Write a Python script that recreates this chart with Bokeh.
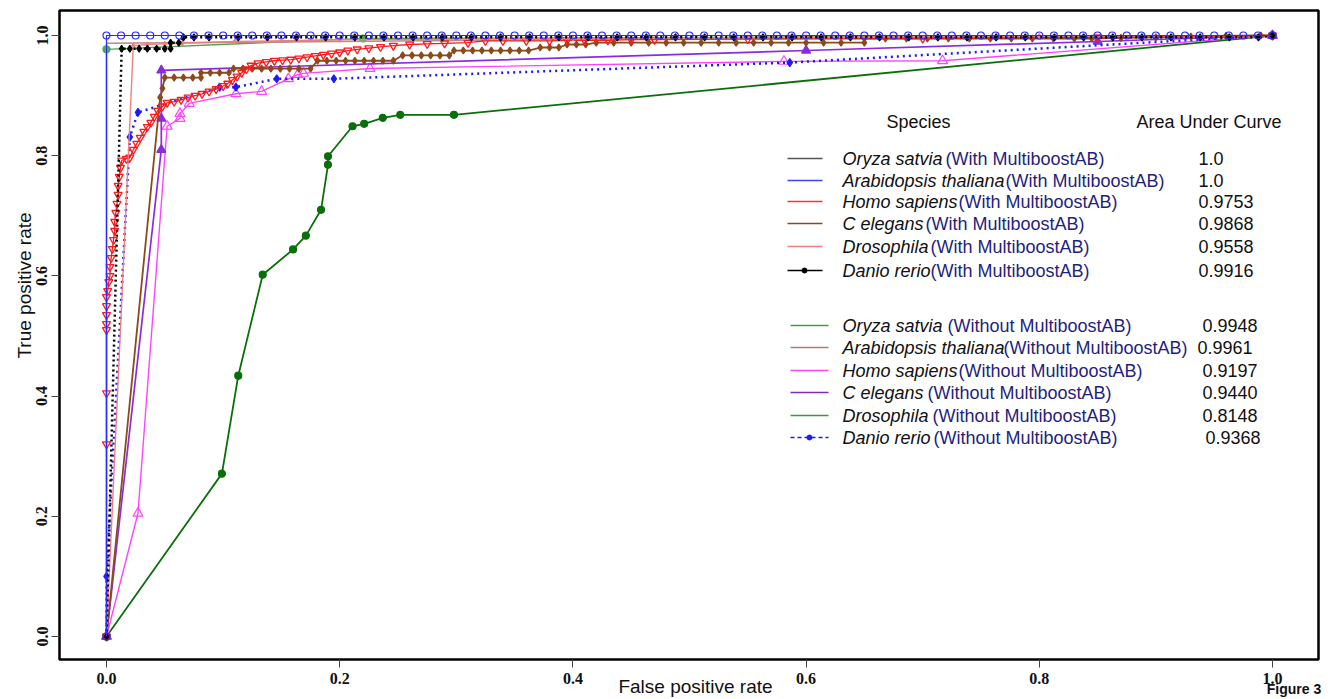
import math
from bokeh.plotting import figure
from bokeh.models import Range1d, FixedTicker, LinearAxis, NumeralTickFormatter, CustomJSTickFormatter
from bokeh.core.properties import value
from bokeh.embed import file_html
from bokeh.resources import INLINE

# ---------------- data ----------------
# With MultiboostAB
oryza_with_x = [0.0, 0.0, 1.0]
oryza_with_y = [0.0, 1.0, 1.0]

arab_with_x = [0.0,
               0.0000, 0.0125, 0.0250, 0.0375, 0.0500, 0.0625, 0.0750, 0.0875, 0.1000,
               0.1125, 0.1250, 0.1375, 0.1500, 0.1625, 0.1750, 0.1875, 0.2000, 0.2125,
               0.2250, 0.2375, 0.2500, 0.2625, 0.2750, 0.2875, 0.3000, 0.3125, 0.3250,
               0.3375, 0.3500, 0.3625, 0.3750, 0.3875, 0.4000, 0.4125, 0.4250, 0.4375,
               0.4500, 0.4625, 0.4750, 0.4875, 0.5000, 0.5125, 0.5250, 0.5375, 0.5500,
               0.5625, 0.5750, 0.5875, 0.6000, 0.6125, 0.6250, 0.6375, 0.6500, 0.6625,
               0.6750, 0.6875, 0.7000, 0.7125, 0.7250, 0.7375, 0.7500, 0.7625, 0.7750,
               0.7875, 0.8000, 0.8125, 0.8250, 0.8375, 0.8500, 0.8625, 0.8750, 0.8875,
               0.9000, 0.9125, 0.9250, 0.9375, 0.9500, 0.9625, 0.9750, 0.9875, 1.0000]
arab_with_y = [0.0,
               1.0, 1.0, 1.0, 1.0, 1.0, 1.0, 1.0, 1.0, 1.0,
               1.0, 1.0, 1.0, 1.0, 1.0, 1.0, 1.0, 1.0, 1.0,
               1.0, 1.0, 1.0, 1.0, 1.0, 1.0, 1.0, 1.0, 1.0,
               1.0, 1.0, 1.0, 1.0, 1.0, 1.0, 1.0, 1.0, 1.0,
               1.0, 1.0, 1.0, 1.0, 1.0, 1.0, 1.0, 1.0, 1.0,
               1.0, 1.0, 1.0, 1.0, 1.0, 1.0, 1.0, 1.0, 1.0,
               1.0, 1.0, 1.0, 1.0, 1.0, 1.0, 1.0, 1.0, 1.0,
               1.0, 1.0, 1.0, 1.0, 1.0, 1.0, 1.0, 1.0, 1.0,
               1.0, 1.0, 1.0, 1.0, 1.0, 1.0, 1.0, 1.0, 1.0]

homo_with_x = [0.000, 0.000, 0.000, 0.000, 0.000, 0.000, 0.000, 0.000, 0.001, 0.002,
               0.003, 0.003, 0.004, 0.005, 0.006, 0.007, 0.007, 0.008, 0.009, 0.010,
               0.010, 0.011, 0.012, 0.013, 0.017, 0.020, 0.023, 0.026, 0.029, 0.032,
               0.035, 0.038, 0.041, 0.044, 0.048, 0.052, 0.058, 0.064, 0.070, 0.076,
               0.082, 0.088, 0.094, 0.100, 0.104, 0.108, 0.112, 0.116, 0.120, 0.124,
               0.130, 0.137, 0.144, 0.151, 0.158, 0.165, 0.172, 0.179, 0.186, 0.193,
               0.200, 0.207, 0.215, 0.225, 0.235, 0.246, 0.260, 0.275, 0.290, 0.310,
               0.325, 0.340, 0.360, 0.380, 0.395, 0.410, 0.430, 0.450, 0.470, 0.550,
               0.700, 0.850, 1.000]
homo_with_y = [0.000, 0.320, 0.405, 0.510, 0.520, 0.535, 0.550, 0.565, 0.575, 0.590,
               0.600, 0.615, 0.630, 0.645, 0.660, 0.675, 0.690, 0.705, 0.720, 0.735,
               0.750, 0.765, 0.780, 0.792, 0.795, 0.797, 0.810, 0.820, 0.830, 0.840,
               0.848, 0.855, 0.865, 0.875, 0.882, 0.888, 0.890, 0.893, 0.897, 0.900,
               0.903, 0.907, 0.911, 0.916, 0.920, 0.926, 0.932, 0.938, 0.944, 0.950,
               0.954, 0.956, 0.958, 0.959, 0.960, 0.962, 0.964, 0.966, 0.968, 0.970,
               0.972, 0.975, 0.977, 0.979, 0.981, 0.983, 0.985, 0.986, 0.987, 0.988,
               0.991, 0.991, 0.991, 0.991, 0.992, 0.992, 0.992, 0.993, 0.993, 0.994,
               0.995, 0.997, 1.000]

cele_with_x = [0.000, 0.046, 0.048, 0.050, 0.058, 0.066, 0.074, 0.081,
               0.081, 0.089, 0.097, 0.105,
               0.109, 0.117, 0.125, 0.133, 0.141, 0.149, 0.157, 0.165, 0.175,
               0.181, 0.189, 0.197, 0.205, 0.213, 0.221, 0.229, 0.237, 0.246,
               0.254, 0.262, 0.270, 0.278, 0.286, 0.294,
               0.298, 0.306, 0.314, 0.322, 0.330, 0.338, 0.346, 0.354, 0.362,
               0.372, 0.380, 0.388,
               0.395, 0.403, 0.411,
               0.420, 0.435, 0.450, 0.465, 0.480, 0.495, 0.510, 0.525, 0.540, 0.555,
               0.570, 0.585, 0.600, 0.615, 0.630, 0.650,
               0.650, 0.668, 0.686, 0.704, 0.722, 0.740, 0.758, 0.776, 0.794, 0.812,
               0.830, 0.845,
               0.870, 0.900, 0.930, 0.960, 0.990, 1.000]
cele_with_y = [0.000, 0.897, 0.912, 0.930, 0.930, 0.930, 0.930, 0.930,
               0.938, 0.938, 0.938, 0.938,
               0.945, 0.945, 0.945, 0.945, 0.945, 0.945, 0.945, 0.945, 0.945,
               0.958, 0.958, 0.958, 0.958, 0.958, 0.958, 0.958, 0.958, 0.958,
               0.967, 0.967, 0.967, 0.967, 0.967, 0.967,
               0.975, 0.975, 0.975, 0.975, 0.975, 0.975, 0.975, 0.975, 0.975,
               0.980, 0.980, 0.980,
               0.985, 0.985, 0.985,
               0.988, 0.988, 0.988, 0.988, 0.988, 0.988, 0.988, 0.988, 0.988, 0.988,
               0.988, 0.988, 0.988, 0.988, 0.988, 0.988,
               0.995, 0.995, 0.995, 0.995, 0.995, 0.995, 0.995, 0.995, 0.995, 0.995,
               0.995, 0.995,
               0.996, 0.997, 0.998, 0.999, 1.000, 1.000]

dros_with_x = [0.000, 0.023, 0.035, 0.050, 0.065, 0.110, 0.200, 0.400, 0.600, 0.800, 1.000]
dros_with_y = [0.000, 0.983, 0.985, 0.986, 0.987, 0.990, 0.993, 0.995, 0.997, 0.999, 1.000]

danio_with_x = [0.000, 0.013, 0.020, 0.028, 0.035, 0.043, 0.050, 0.055,
                0.055, 0.062, 0.066, 0.075,
                0.088, 0.113, 0.138, 0.163, 0.188, 0.213, 0.238, 0.263, 0.288, 0.313,
                0.338, 0.363, 0.388, 0.413, 0.438, 0.463, 0.488, 0.513, 0.538, 0.563,
                0.588, 0.613, 0.638, 0.663, 0.688, 0.713, 0.738, 0.763, 0.788, 0.813,
                0.838, 0.863, 0.888, 0.913, 0.938, 0.963, 0.988, 1.000]
danio_with_y = [0.000, 0.978, 0.978, 0.978, 0.978, 0.978, 0.978, 0.978,
                0.988, 0.988, 0.997, 0.997,
                0.997, 0.997, 0.997, 0.997, 0.997, 0.997, 0.997, 0.997, 0.997, 0.997,
                0.997, 0.997, 0.997, 0.997, 0.997, 0.997, 0.997, 0.997, 0.997, 0.997,
                0.997, 0.997, 0.997, 0.997, 0.997, 0.997, 0.997, 0.997, 0.997, 0.997,
                0.997, 0.997, 0.997, 0.997, 0.997, 0.997, 0.997, 1.000]

# Without MultiboostAB
oryza_wo_x = [0.000, 0.000, 0.220, 1.000]
oryza_wo_y = [0.000, 0.977, 0.995, 1.000]

arab_wo_x = [0.000, 0.000, 0.200, 0.500, 1.000]
arab_wo_y = [0.000, 0.987, 0.990, 0.995, 1.000]

homo_wo_x = [0.000, 0.027, 0.052, 0.063, 0.063, 0.071, 0.111, 0.133, 0.156, 0.164,
             0.169, 0.226, 0.581, 0.717, 1.000]
homo_wo_y = [0.000, 0.205, 0.849, 0.862, 0.870, 0.887, 0.903, 0.907, 0.928, 0.935,
             0.937, 0.945, 0.957, 0.958, 1.000]

cele_wo_x = [0.000, 0.047, 0.047, 0.047, 0.600, 0.850, 1.000]
cele_wo_y = [0.000, 0.810, 0.862, 0.942, 0.975, 0.990, 1.000]

dros_wo_x = [0.000, 0.099, 0.113, 0.134, 0.160, 0.171, 0.184, 0.190, 0.190, 0.211,
             0.221, 0.237, 0.252, 0.298, 1.000]
dros_wo_y = [0.000, 0.271, 0.434, 0.602, 0.644, 0.667, 0.710, 0.785, 0.799, 0.849,
             0.853, 0.863, 0.868, 0.868, 1.000]

danio_wo_x = [0.000, 0.000, 0.020, 0.027, 0.097, 0.111, 0.146, 0.195, 0.586, 1.000]
danio_wo_y = [0.000, 0.100, 0.831, 0.872, 0.914, 0.914, 0.928, 0.928, 0.955, 1.000]

species = ["Oryza satvia", "Arabidopsis thaliana", "Homo sapiens", "C elegans",
           "Drosophila", "Danio rerio"]
auc_with = ["1.0", "1.0", "0.9753", "0.9868", "0.9558", "0.9916"]
auc_without = ["0.9948", "0.9961", "0.9197", "0.9440", "0.8148", "0.9368"]
x_ticks = [0.0, 0.2, 0.4, 0.6, 0.8, 1.0]
y_ticks = [0.0, 0.2, 0.4, 0.6, 0.8, 1.0]

# ---------------- layout helpers (pixel -> data) ----------------
def dx(px):
    return (px - 106) / 1166.0

def dy(py):
    return (636 - py) / 601.0

W, H = 1323, 699
p = figure(width=W, height=H, output_backend="svg", toolbar_location=None,
           x_range=Range1d(dx(59), dx(1318)), y_range=Range1d(dy(659), dy(10)),
           min_border_left=59, min_border_right=W - 1318, min_border_top=10,
           min_border_bottom=H - 659)
p.background_fill_color = "white"
p.border_fill_color = "white"
p.outline_line_color = "black"
p.outline_line_width = 2.5
p.xgrid.visible = False
p.ygrid.visible = False

SERIF = "Liberation Serif"
SANS = "Liberation Sans"

for ax, ticks in ((p.xaxis[0], x_ticks), (p.yaxis[0], y_ticks)):
    ax.ticker = FixedTicker(ticks=ticks)
    ax.formatter = NumeralTickFormatter(format="0.0")
    ax.axis_line_color = None
    ax.major_tick_out = 8
    ax.major_tick_in = 0
    ax.minor_tick_line_color = None
    ax.major_tick_line_color = "#444444"
    ax.major_label_text_font = SERIF
    ax.major_label_text_font_style = "bold"
    ax.major_label_text_font_size = "16px"
    ax.major_label_text_color = "#111111"
p.xaxis[0].major_label_standoff = 5
p.yaxis[0].major_label_standoff = 4
p.yaxis[0].major_label_orientation = "vertical"

# text-only axes (axis titles and figure tag), stacked in the side panels
def text_axis(side, tick, txt, size, standoff, style="normal", orient=None):
    ax = LinearAxis(ticker=FixedTicker(ticks=[tick]),
                    formatter=CustomJSTickFormatter(code="return %r;" % txt),
                    axis_line_color=None, major_tick_line_color=None,
                    minor_tick_line_color=None, major_tick_out=0, major_tick_in=0,
                    minor_tick_out=0, minor_tick_in=0,
                    major_label_standoff=standoff, major_label_text_font=SANS,
                    major_label_text_font_size=size, major_label_text_font_style=style,
                    major_label_text_color="#111111")
    if orient:
        ax.major_label_orientation = orient
    p.add_layout(ax, side)

text_axis("below", dx(1298), "Figure 3", "14px", -6, style="bold")
text_axis("below", dx(695), "False positive rate", "19px", -24)
text_axis("left", dy(285), "True positive rate", "19px", -1, orient="vertical")

# ---------------- curves ----------------
def curve(xs, ys, color, width=1.2, dash="solid", marker=None, msize=7, filled=True, mlw=1.2):
    p.line(xs, ys, line_color=color, line_width=width, line_dash=dash)
    if marker:
        p.scatter(xs, ys, marker=marker, size=msize, line_color=color, line_width=mlw,
                  fill_color=color if filled else None)

# Without
curve(dros_wo_x, dros_wo_y, "#0a6e0a", 1.8, marker="circle", msize=7)
curve(oryza_wo_x, oryza_wo_y, "#4fa64f", 1.3, marker="circle", msize=7)
curve(arab_wo_x, arab_wo_y, "#bc8a8a", 1.6)
curve(homo_wo_x, homo_wo_y, "#ff44ff", 1.4, marker="triangle", msize=10, filled=False)
curve(cele_wo_x, cele_wo_y, "#8a2be2", 1.7, marker="triangle", msize=9)
curve(danio_wo_x, danio_wo_y, "#1a1aff", 2.5, dash="2 4", marker="diamond", msize=8)
# With
curve(cele_with_x, cele_with_y, "#8b4a1a", 1.8, marker="diamond", msize=7)
curve(homo_with_x, homo_with_y, "#ff1a1a", 1.3, marker="inverted_triangle", msize=8, filled=False, mlw=1.3)
curve(dros_with_x, dros_with_y, "#f08080", 1.4, marker="diamond", msize=5)
curve(oryza_with_x, oryza_with_y, "#666666", 1.2)
curve(danio_with_x, danio_with_y, "#000000", 2.5, dash="2 3", marker="diamond", msize=7)
curve(arab_with_x, arab_with_y, "#2a2aff", 1.0, marker="circle", msize=7, filled=False, mlw=1.2)

# ---------------- legend (drawn as text/lines) ----------------
hdr_kw = dict(text_font=value(SANS), text_font_size="18px", text_baseline="middle",
              text_color="#111111")
p.text([dx(886)], [dy(121)], text=["Species"], text_align="left", **hdr_kw)
p.text([dx(1136)], [dy(121)], text=["Area Under Curve"], text_align="left", **hdr_kw)

with_colors = ["#555555", "#4040ff", "#ff3030", "#8b4a1a", "#f08080", "#000000"]
wo_colors = ["#3da03d", "#b87878", "#ff44ff", "#7a30b0", "#3a9a3a", "#1a1aff"]
rows_with = [158, 180, 201, 223, 246, 270]
rows_wo = [325, 347, 370, 392, 415, 437]
suffix_with_px = [945, 1005, 958, 925, 930, 930]
suffix_wo_px = [947, 1003, 958, 927, 932, 933]
auc_with_px = [1198, 1198, 1198, 1198, 1198, 1198]
auc_wo_px = [1202, 1197, 1202, 1202, 1202, 1205]

NAVY = "#1f1f80"
item_kw = dict(text_font=value(SANS), text_font_size="18px", text_baseline="middle",
               text_align="left")

for i in range(6):
    yy = dy(rows_with[i])
    p.line([dx(787), dx(822)], [yy, yy], line_color=with_colors[i], line_width=1.3)
    if i == 5:
        p.scatter([dx(804)], [yy], marker="circle", size=5, color="#000000")
    p.text([dx(842)], [yy], text=[species[i]], text_font_style="italic",
           text_color="#111111", **item_kw)
    p.text([dx(suffix_with_px[i])], [yy], text=["(With MultiboostAB)"],
           text_color=NAVY, **item_kw)
    p.text([dx(auc_with_px[i])], [yy], text=[auc_with[i]], text_color="#111111", **item_kw)

    yy = dy(rows_wo[i])
    dash = "4 3" if i == 5 else "solid"
    p.line([dx(790), dx(828)], [yy, yy], line_color=wo_colors[i], line_width=1.5, line_dash=dash)
    if i == 5:
        p.scatter([dx(809)], [yy], marker="circle", size=5, color="#1a1aff")
    p.text([dx(842)], [yy], text=[species[i]], text_font_style="italic",
           text_color="#111111", **item_kw)
    p.text([dx(suffix_wo_px[i])], [yy], text=["(Without MultiboostAB)"],
           text_color=NAVY, **item_kw)
    p.text([dx(auc_wo_px[i])], [yy], text=[auc_without[i]], text_color="#111111", **item_kw)

open("out.html", "w").write(file_html(p, INLINE))
